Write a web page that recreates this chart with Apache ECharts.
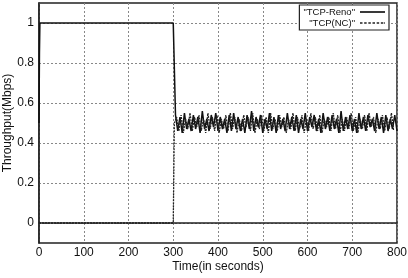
<!DOCTYPE html>
<html>
<head>
<meta charset="utf-8">
<script src="https://cdn.jsdelivr.net/npm/echarts@6/dist/echarts.min.js"></script>
<style>
  html, body { margin: 0; padding: 0; background: #fff; }
  #chart { width: 408px; height: 278px; }
</style>
</head>
<body>
<div id="chart"></div>
<script>
// 坐标轴刻度
const yTicks = [0, 0.2, 0.4, 0.6, 0.8, 1];

// 前段数据 [时间, 吞吐量]
const renoHead = [[0, 0.5], [1, 0.85], [2, 1], [300, 1]];
const ncHead = [[0, 0], [300, 0]];

// 之后每 5s 一个采样点，两条曲线错开 2.5s
const renoStart = 305;
const ncStart = 302.5;
const tailStep = 5;
const renoTail = [
  0.54, 0.46, 0.53, 0.45, 0.55, 0.47, 0.52, 0.46, 0.54, 0.47,
  0.53, 0.45, 0.56, 0.47, 0.52, 0.46, 0.54, 0.48, 0.55, 0.46,
  0.53, 0.47, 0.52, 0.45, 0.54, 0.46, 0.55, 0.47, 0.53, 0.46,
  0.52, 0.45, 0.54, 0.47, 0.56, 0.46, 0.53, 0.48, 0.54, 0.45,
  0.52, 0.47, 0.55, 0.46, 0.53, 0.45, 0.54, 0.47, 0.52, 0.46,
  0.55, 0.47, 0.53, 0.46, 0.54, 0.45, 0.52, 0.47, 0.55, 0.46,
  0.53, 0.48, 0.54, 0.46, 0.52, 0.45, 0.55, 0.47, 0.53, 0.46,
  0.54, 0.47, 0.52, 0.45, 0.56, 0.46, 0.53, 0.47, 0.54, 0.46,
  0.52, 0.45, 0.55, 0.47, 0.53, 0.46, 0.54, 0.48, 0.52, 0.46,
  0.55, 0.47, 0.53, 0.45, 0.54, 0.46, 0.52, 0.47, 0.54, 0.46
];
const ncTail = [
  0.50, 0.53, 0.46, 0.54, 0.45, 0.52, 0.47, 0.55, 0.46, 0.53,
  0.48, 0.54, 0.46, 0.52, 0.45, 0.55, 0.47, 0.53, 0.46, 0.54,
  0.45, 0.52, 0.47, 0.54, 0.46, 0.55, 0.47, 0.53, 0.45, 0.52,
  0.46, 0.54, 0.48, 0.53, 0.46, 0.55, 0.45, 0.52, 0.47, 0.54,
  0.46, 0.53, 0.45, 0.55, 0.47, 0.52, 0.46, 0.54, 0.48, 0.53,
  0.45, 0.52, 0.47, 0.55, 0.46, 0.53, 0.47, 0.54, 0.45, 0.52,
  0.46, 0.55, 0.47, 0.53, 0.46, 0.54, 0.45, 0.52, 0.48, 0.53,
  0.46, 0.55, 0.47, 0.54, 0.45, 0.52, 0.46, 0.53, 0.47, 0.55,
  0.46, 0.53, 0.45, 0.52, 0.47, 0.54, 0.46, 0.55, 0.48, 0.53,
  0.45, 0.52, 0.47, 0.54, 0.46, 0.53, 0.47, 0.55, 0.46
];

function withTail(head, start, tail) {
  return head.concat(tail.map((v, i) => [start + i * tailStep, v]));
}

const chart = echarts.init(document.getElementById('chart'), null, { renderer: 'canvas' });
const font = 'Liberation Sans, Arial, sans-serif';
const gridLine = { show: true, lineStyle: { color: '#888', type: [2, 2], width: 1 } };

// 图例图标：实线 / 虚线
const solidIcon = 'path://M0,0H30V2H0Z';
const dashIcon = 'path://M0,0H3V2H0Z M5,0H8V2H5Z M10,0H13V2H10Z M15,0H18V2H15Z M20,0H23V2H20Z M25,0H28V2H25Z M29,0H30V2H29Z';

chart.setOption({
  animation: false,
  backgroundColor: '#fff',
  grid: {
    left: 39, right: 11, top: 3, bottom: 35,
    outerBoundsMode: 'none',
    containLabel: false,
    show: true, borderColor: '#222', borderWidth: 1.5
  },
  legend: {
    orient: 'vertical',
    right: 19, top: 5,
    align: 'right',
    backgroundColor: '#fff',
    borderColor: '#222', borderWidth: 1.2,
    padding: [2, 4, 2, 4],
    itemGap: 1,
    itemWidth: 25, itemHeight: 2,
    textStyle: { fontFamily: font, fontSize: 9.5, color: '#111' },
    data: [
      { name: '"TCP-Reno"', icon: solidIcon },
      { name: '"TCP(NC)"', icon: dashIcon }
    ]
  },
  xAxis: {
    type: 'value',
    min: 0, max: 800, interval: 100,
    name: 'Time(in seconds)',
    nameLocation: 'middle', nameGap: 18,
    nameMoveOverlap: false,
    nameTextStyle: { fontFamily: font, fontSize: 12, color: '#111' },
    axisLine: { show: true, lineStyle: { color: '#222', width: 1.5 } },
    axisTick: { show: false },
    axisLabel: { fontFamily: font, fontSize: 12, color: '#111', margin: 4 },
    splitLine: gridLine
  },
  yAxis: {
    type: 'value',
    min: -0.1, max: 1.1,
    name: 'Throughput(Mbps)',
    nameLocation: 'middle', nameGap: 25,
    nameMoveOverlap: false,
    nameTextStyle: { fontFamily: font, fontSize: 12, color: '#111' },
    axisLine: { show: true, lineStyle: { color: '#222', width: 1.5 } },
    axisTick: { show: false, customValues: yTicks },
    axisLabel: { fontFamily: font, fontSize: 12, color: '#111', margin: 5, customValues: yTicks },
    splitLine: gridLine
  },
  series: [
    {
      name: '"TCP-Reno"',
      type: 'line',
      symbol: 'none',
      lineStyle: { color: '#111', width: 1.5 },
      itemStyle: { color: '#111' },
      data: withTail(renoHead, renoStart, renoTail),
      z: 2
    },
    {
      name: '"TCP(NC)"',
      type: 'line',
      symbol: 'none',
      lineStyle: { color: '#222', width: 1.3, type: [2, 1] },
      itemStyle: { color: '#222' },
      data: withTail(ncHead, ncStart, ncTail),
      z: 3
    }
  ]
});
</script>
</body>
</html>
